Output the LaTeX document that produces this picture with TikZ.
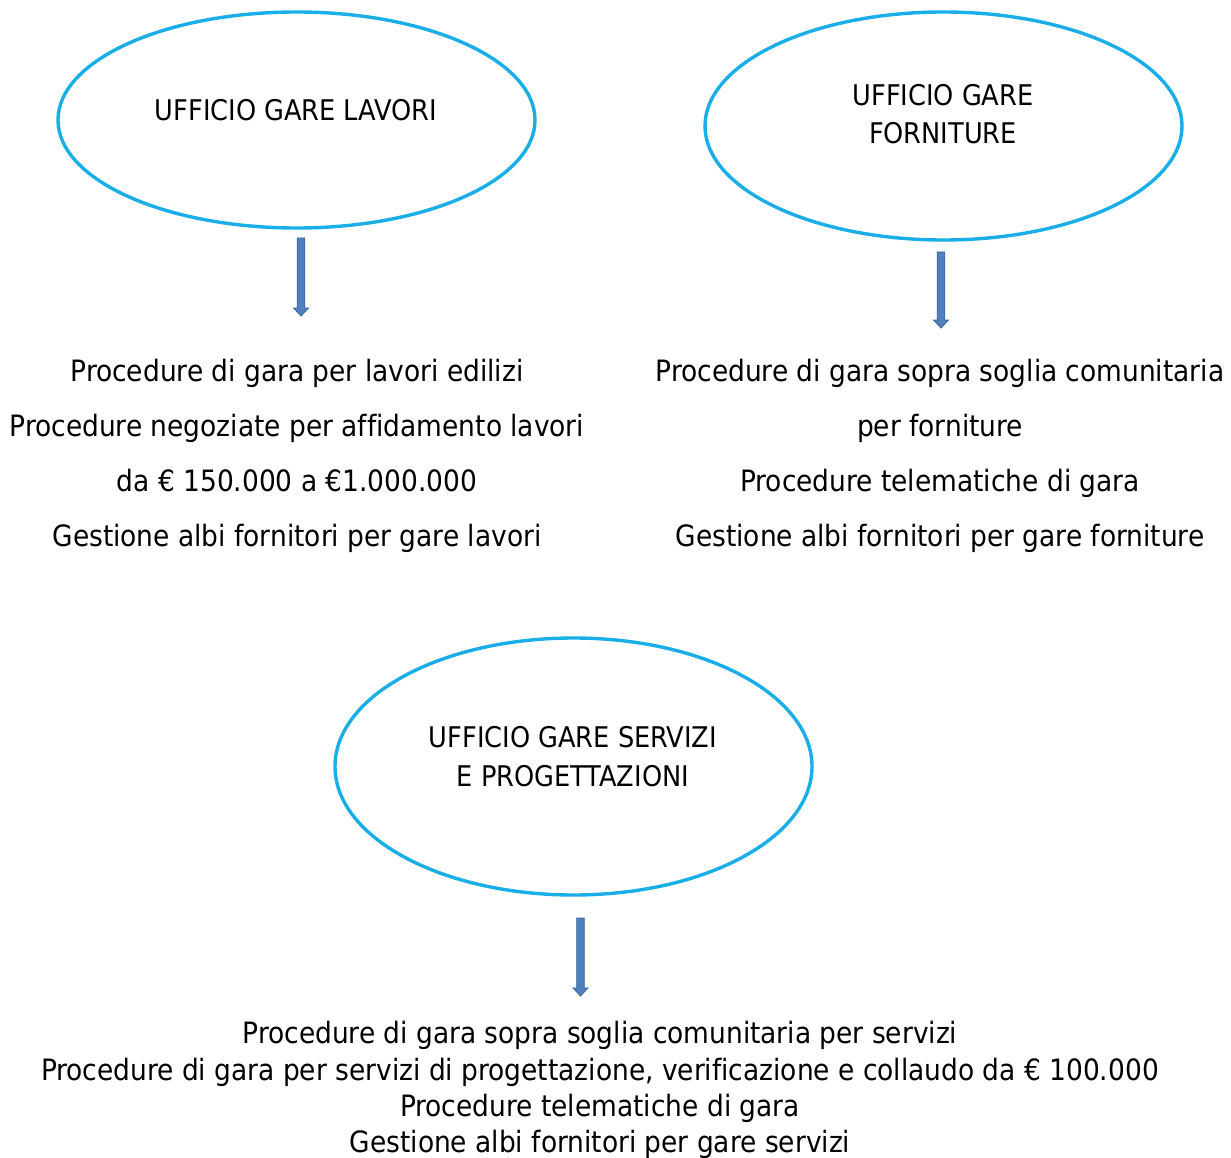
\documentclass[tikz,border=0pt]{standalone}
\usepackage{fontspec}
\setmainfont[Ligatures=NoCommon]{DejaVu Sans Condensed}
\definecolor{ellblue}{HTML}{1AAEE8}
\definecolor{arrfill}{HTML}{4F81BD}
\definecolor{arrdraw}{HTML}{3B679A}
\tikzset{
  office/.style={draw=ellblue, line width=3.4pt},
  txt/.style={anchor=base, inner sep=0pt, font=\fontsize{29.4}{33}\selectfont},
  head/.style={anchor=base, inner sep=0pt, font=\fontsize{28.5}{33}\selectfont},
  blockarrow/.style={fill=arrfill, draw=arrdraw, line width=0.8pt},
}
\newcommand{\downarr}[3]{% x, ytop, ytip
  \path[blockarrow] (#1-3.8,#2) -- (#1+3.8,#2) -- (#1+3.8,#3-8) -- (#1+7.5,#3-8)
    -- (#1,#3) -- (#1-7.5,#3-8) -- (#1-3.8,#3-8) -- cycle;}
\begin{document}
\begin{tikzpicture}[x=1pt,y=-1pt]
\useasboundingbox (0,0) rectangle (1231,1158);
% ellipses
\draw[office] (296.5,120) ellipse [x radius=238.5, y radius=108];
\draw[office] (943.5,126) ellipse [x radius=238.5, y radius=114];
\draw[office] (573.5,766.5) ellipse [x radius=238.5, y radius=128.5];
\node[head] (t1) at (296,121) {UFFICIO GARE LAVORI};
\node[head] (t2a) at (943,106) {UFFICIO GARE};
\node[head] (t2b) at (943,144) {FORNITURE};
\node[head] (t3a) at (573,747) {UFFICIO GARE SERVIZI};
\node[head] (t3b) at (573,786) {E PROGETTAZIONI};
% arrows
\downarr{301}{238}{316}
\downarr{941}{252}{328}
\downarr{580.5}{918}{996}
% block 1
\node[txt] (a1) at (297,381) {Procedure di gara per lavori edilizi};
\node[txt] (a2) at (297,436) {Procedure negoziate per affidamento lavori};
\node[txt] (a3) at (297,491) {da € 150.000 a €1.000.000};
\node[txt] (a4) at (297,546) {Gestione albi fornitori per gare lavori};
% block 2
\node[txt] (b1) at (940,381) {Procedure di gara sopra soglia comunitaria};
\node[txt] (b2) at (940,436) {per forniture};
\node[txt] (b3) at (940,491) {Procedure telematiche di gara};
\node[txt] (b4) at (940,546) {Gestione albi fornitori per gare forniture};
% block 3
\node[txt] (c1) at (600,1043) {Procedure di gara sopra soglia comunitaria per servizi};
\node[txt] (c2) at (600,1080) {Procedure di gara per servizi di progettazione, verificazione e collaudo da € 100.000};
\node[txt] (c3) at (600,1116) {Procedure telematiche di gara};
\node[txt] (c4) at (600,1152) {Gestione albi fornitori per gare servizi};
\end{tikzpicture}
\end{document}
